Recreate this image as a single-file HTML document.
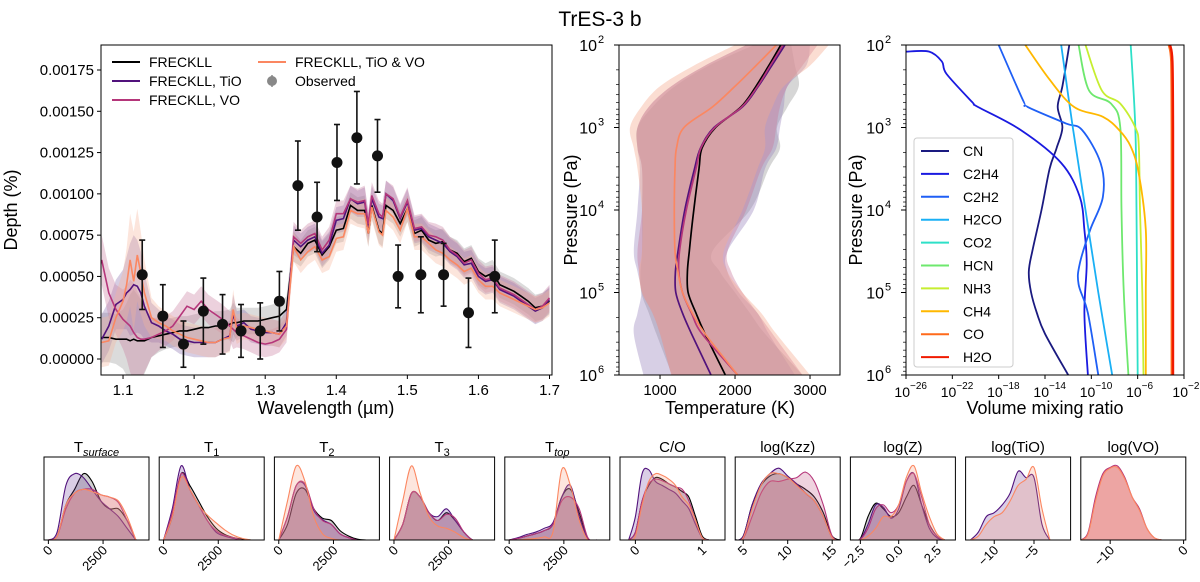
<!DOCTYPE html>
<html><head><meta charset="utf-8">
<style>
html,body{margin:0;padding:0;background:#fff;}
svg{display:block;font-family:"Liberation Sans","DejaVu Sans",sans-serif;}
</style></head>
<body>
<svg id="fig" width="1200" height="582" viewBox="0 0 1200 582" xmlns="http://www.w3.org/2000/svg">
<text x="600" y="26" font-size="21" text-anchor="middle">TrES-3 b</text>
<g id="main"></g>
<g id="tp"></g>
<g id="chem"></g>
<g id="post"></g>
</svg>
<script>
// ---------- spectrum data (depth in units of 1e-5) ----------
const wavelengths=[1.07,1.08,1.09,1.10,1.105,1.11,1.115,1.12,1.125,1.13,1.14,1.15,1.16,1.17,1.18,1.19,1.20,1.21,1.22,1.23,1.24,1.25,1.255,1.26,1.27,1.28,1.29,1.30,1.31,1.32,1.33,1.34,1.35,1.36,1.37,1.38,1.39,1.40,1.41,1.42,1.43,1.44,1.445,1.45,1.46,1.465,1.47,1.48,1.49,1.50,1.51,1.52,1.53,1.54,1.55,1.56,1.57,1.58,1.59,1.60,1.61,1.62,1.63,1.64,1.65,1.66,1.67,1.68,1.69,1.70];
const depthFreckll=[13,13,12,12,12,11,12,11,11,11,13,14,15,16,17,17,18,19,19,20,20,21,22,22,23,23,23,24,25,26,30,68,64,70,72,63,68,78,79,93,90,90,76,93,78,76,93,90,82,91,76,78,72,70,71,66,64,59,61,53,50,52,45,43,41,38,35,31,32,35];
const depthTiO=[12,20,33,36,40,42,45,44,40,32,22,20,17,15,12,11,10,10,10,10,12,14,27,20,22,18,17,16,16,15,22,72,68,72,74,64,69,84,85,97,94,95,80,97,86,85,100,96,85,95,78,79,74,72,70,65,62,57,58,50,47,48,42,40,38,35,32,29,31,36];
const depthVO=[60,40,30,24,22,20,16,13,12,12,13,15,17,20,26,32,30,35,30,27,24,20,18,16,14,12,10,9,10,12,18,74,70,74,76,66,72,88,88,97,95,96,82,99,88,86,100,97,86,96,79,80,75,74,72,66,63,58,60,52,48,49,43,41,39,36,33,30,32,37];
const depthTiOVO=[10,11,25,35,45,60,47,63,52,40,25,22,20,17,15,13,12,11,10,10,12,13,30,18,20,19,18,17,16,15,20,68,60,65,68,60,62,73,74,90,88,88,76,92,77,75,90,86,78,91,74,74,70,66,64,60,57,53,55,48,44,44,40,38,36,34,32,30,31,34];
const bandHalf=[15,15,15,18,22,28,30,28,25,20,12,10,9,9,9,9,9,9,9,9,9,9,12,9,8,8,8,8,8,8,8,9,8,8,8,8,8,8,8,8,8,9,8,8,8,8,8,8,8,8,8,8,8,8,8,8,8,8,8,8,8,8,8,8,8,8,8,8,8,8];
const obsWl=[1.127,1.156,1.185,1.213,1.240,1.266,1.293,1.320,1.346,1.373,1.401,1.429,1.458,1.487,1.519,1.551,1.586,1.623];
const obsDepth=[51,26,9,29,21,17,17,35,105,86,119,134,123,50,51,51,28,50];
const obsErr=[21,19,14,20,18,16,17,18,27,21,23,28,22,19,23,19,21,22];
const depthTicks=[0,25,50,75,100,125,150,175];
const depthTickLabels=["0.00000","0.00025","0.00050","0.00075","0.00100","0.00125","0.00150","0.00175"];
const wlTicks=[1.1,1.2,1.3,1.4,1.5,1.6,1.7];

// ---------- T-P data ----------
const logP=[2,2.25,2.5,2.75,3,3.25,3.5,4,4.5,4.75,5,5.25,5.5,6];
const tFreckll=[2610,2450,2280,2080,1740,1560,1520,1450,1390,1365,1375,1480,1600,1870];
const tTiO=[2665,2490,2310,2100,1720,1540,1460,1330,1240,1205,1210,1300,1420,1680];
const tVO=[2640,2470,2300,2090,1730,1545,1480,1350,1260,1250,1300,1420,1560,2035];
const tTiOVO=[2550,2280,2000,1700,1320,1220,1200,1190,1200,1240,1300,1430,1600,2035];
const tLoFreckll=[2250,1650,1200,900,700,700,760,760,760,740,750,850,950,1160];
const tHiFreckll=[2750,2800,2850,2700,2560,2600,2450,2200,1700,1800,2000,2200,2400,2900];
const tLoTiO=[2150,1600,1150,850,700,700,730,700,650,700,750,700,650,780];
const tHiTiO=[3000,2950,2700,2650,2600,2550,2400,2250,1900,1900,2050,2300,2450,2800];
const tLoVO=[2150,1600,1150,850,700,700,760,760,700,720,760,900,1000,1150];
const tHiVO=[3100,2900,2700,2600,2550,2500,2350,2150,1900,1950,2100,2300,2500,2900];
const tLoTiOVO=[2000,1450,1000,750,600,650,700,760,760,720,760,900,1000,1150];
const tHiTiOVO=[3250,3000,2650,2500,2400,2400,2300,2100,1850,1900,2100,2350,2550,3000];
const tempTicks=[1000,2000,3000];
const pressTicks=[2,3,4,5,6];

// ---------- chemistry data (log10 VMR vs log10 P) ----------
const species=["CN","C2H4","C2H2","H2CO","CO2","HCN","NH3","CH4","CO","H2O"];
const pCN=[2,2.5,2.75,3,3.25,3.5,4,4.5,4.75,5,5.25,5.5,6];
const xCN=[-11.9,-12.5,-12.9,-12.5,-13.0,-13.6,-14.3,-15.1,-15.4,-15.2,-14.7,-14.0,-12.0];
const pC2H4=[2.08,2.08,2.2,2.35,2.69,2.75,3.03,3.43,3.84,4.24,4.65,5.25,6];
const xC2H4=[-26,-24,-22.9,-22.5,-20.3,-19.8,-16.1,-12.6,-11,-10.6,-10.4,-10.6,-10.3];
const pC2H2=[2,2.67,2.75,2.95,3.03,3.43,3.84,4.24,4.65,4.9,5.25,6];
const xC2H2=[-18,-15.9,-15.5,-12.2,-10.8,-9.2,-9,-10.1,-11,-11.1,-10.3,-9.4];
const pH2CO=[2,3,4,5,6];
const xH2CO=[-12.6,-11.6,-10.5,-9.4,-8.2];
const pCO2=[2,3,4,5,6];
const xCO2=[-6.6,-6.2,-6.1,-6.05,-6.0];
const pHCN=[2,2.55,2.71,3,4,5,6];
const xHCN=[-11.1,-10.2,-8.3,-7.5,-7.4,-7.2,-6.8];
const pNH3=[2,2.55,2.71,3,3.23,4,5,6];
const xNH3=[-10.5,-9.1,-7.5,-6.2,-5.9,-5.8,-5.6,-5.5];
const pCH4=[2,2.42,2.75,2.87,3.03,3.23,3.56,4.24,5,6];
const xCH4=[-15.7,-13.6,-11.5,-9,-7.6,-6.6,-5.9,-5.3,-5.3,-5.3];
const pCO=[2,2.2,3,4,5,6];
const xCO=[-3.3,-3.1,-3.05,-3.05,-3.05,-3.05];
const pH2O=[2,2.2,3,4,5,6];
const xH2O=[-3.2,-3.0,-2.95,-2.95,-2.95,-2.95];
const vmrTicks=[-26,-22,-18,-14,-10,-6,-2];

// ---------- posterior densities ----------
const tGrid=[0,400,800,1200,1600,2000,2400,2800,3200,3600,4000];
const tsurfF=[0,0.05,0.45,0.65,0.85,0.75,0.5,0.4,0.4,0.25,0];
const tsurfT=[0,0.1,0.7,0.85,0.8,0.65,0.5,0.4,0.3,0.15,0];
const tsurfV=[0,0.05,0.4,0.6,0.65,0.65,0.58,0.55,0.48,0.25,0];
const tsurfTV=[0,0.05,0.45,0.6,0.65,0.62,0.58,0.55,0.5,0.3,0];
const t1F=[0,0.3,0.85,0.7,0.5,0.3,0.15,0.07,0.03,0.01,0];
const t1T=[0,0.4,0.95,0.65,0.45,0.25,0.1,0.05,0.02,0,0];
const t1V=[0,0.35,0.85,0.65,0.45,0.25,0.12,0.06,0.03,0,0];
const t1TV=[0,0.3,0.8,0.65,0.45,0.32,0.22,0.13,0.06,0.02,0];
const t2F=[0,0.2,0.6,0.65,0.4,0.28,0.25,0.12,0.05,0.01,0];
const t2T=[0,0.3,0.7,0.7,0.38,0.26,0.2,0.08,0.03,0,0];
const t2V=[0,0.3,0.7,0.72,0.4,0.25,0.2,0.08,0.03,0,0];
const t2TV=[0,0.5,0.95,0.75,0.3,0.08,0.02,0,0,0,0];
const t3F=[0,0.2,0.6,0.55,0.35,0.25,0.35,0.25,0.1,0,0];
const t3T=[0,0.2,0.6,0.55,0.35,0.3,0.4,0.25,0.1,0,0];
const t3V=[0,0.2,0.6,0.55,0.35,0.25,0.33,0.28,0.1,0,0];
const t3TV=[0,0.5,0.95,0.6,0.3,0.18,0.15,0.1,0.03,0,0];
const ttopF=[0,0.02,0.05,0.08,0.12,0.2,0.55,0.65,0.35,0.02,0];
const ttopT=[0,0.03,0.07,0.1,0.15,0.22,0.55,0.7,0.3,0.02,0];
const ttopV=[0,0.02,0.05,0.08,0.12,0.2,0.5,0.55,0.4,0.03,0];
const ttopTV=[0,0,0.01,0.02,0.04,0.1,0.9,0.7,0.25,0,0];
const coGrid=[-0.1,0,0.1,0.2,0.3,0.4,0.5,0.6,0.7,0.8,0.9,1.0,1.1];
const coF=[0,0.1,0.5,0.7,0.8,0.78,0.72,0.68,0.62,0.55,0.3,0.05,0];
const coT=[0,0.3,0.85,0.9,0.75,0.7,0.65,0.6,0.5,0.4,0.2,0.03,0];
const coV=[0,0.1,0.5,0.72,0.78,0.76,0.72,0.68,0.65,0.5,0.25,0.03,0];
const coTV=[0,0.05,0.45,0.75,0.85,0.83,0.78,0.7,0.55,0.45,0.25,0.03,0];
const kzzGrid=[4,5,6,7,8,9,10,11,12,13,14,15,16];
const kzzF=[0,0.05,0.45,0.7,0.82,0.85,0.8,0.72,0.65,0.55,0.35,0.05,0];
const kzzT=[0,0.05,0.45,0.72,0.85,0.92,0.82,0.72,0.6,0.5,0.3,0.03,0];
const kzzV=[0,0.02,0.3,0.6,0.75,0.75,0.78,0.8,0.87,0.75,0.45,0.05,0];
const kzzTV=[0,0.03,0.4,0.7,0.85,0.85,0.8,0.7,0.6,0.5,0.3,0.03,0];
const zGrid=[-3,-2.5,-2,-1.5,-1,-0.5,0,0.5,1,1.5,2,2.5,3];
const zF=[0,0.02,0.3,0.47,0.4,0.3,0.35,0.55,0.7,0.45,0.2,0.05,0];
const zT=[0,0.01,0.2,0.45,0.42,0.28,0.4,0.75,0.85,0.45,0.15,0.03,0];
const zV=[0,0.01,0.15,0.4,0.45,0.35,0.45,0.75,0.85,0.55,0.2,0.05,0];
const zTV=[0,0,0.05,0.15,0.3,0.3,0.45,0.8,0.95,0.6,0.3,0.08,0];
const tioGrid=[-13,-12,-11,-10,-9,-8,-7,-6,-5,-4,-3];
const tioT=[0,0.1,0.3,0.35,0.45,0.6,0.88,0.8,0.8,0.2,0];
const tioTV=[0,0.05,0.2,0.3,0.35,0.5,0.7,0.78,0.93,0.4,0];
const voGrid=[-14,-13,-12,-11,-10,-9,-8,-7,-6,-5,-4,-3];
const voV=[0,0.1,0.55,0.85,0.93,0.95,0.8,0.55,0.4,0.15,0.03,0];
const voTV=[0,0.08,0.5,0.82,0.92,0.93,0.78,0.55,0.38,0.15,0.03,0];

const NS="http://www.w3.org/2000/svg";
function mk(parent,tag,attrs,txt){const e=document.createElementNS(NS,tag);for(const k in attrs)e.setAttribute(k,attrs[k]);if(txt!==undefined)e.textContent=txt;parent.appendChild(e);return e;}
function smooth(pts){if(pts.length<2)return "";let d="M"+pts[0][0].toFixed(1)+","+pts[0][1].toFixed(1);
 for(let i=0;i<pts.length-1;i++){const p0=pts[i-1]||pts[i],p1=pts[i],p2=pts[i+1],p3=pts[i+2]||p2;
  const c1=[p1[0]+(p2[0]-p0[0])/6,p1[1]+(p2[1]-p0[1])/6],c2=[p2[0]-(p3[0]-p1[0])/6,p2[1]-(p3[1]-p1[1])/6];
  d+="C"+c1[0].toFixed(1)+","+c1[1].toFixed(1)+" "+c2[0].toFixed(1)+","+c2[1].toFixed(1)+" "+p2[0].toFixed(1)+","+p2[1].toFixed(1);}
 return d;}
function lin(pts){return pts.map((p,i)=>(i?"L":"M")+p[0].toFixed(1)+","+p[1].toFixed(1)).join("");}
const C={F:"#000000",T:"#51127c",V:"#b5367a",TV:"#fb8761"};

// ================= MAIN SPECTRUM =================
(function(){
 const g=document.getElementById("main");
 const L=101,R=552,T=45,B=375,x0=1.069,x1=1.7035;
 const xs=v=>L+(v-x0)/(x1-x0)*(R-L);
 const ys=v=>359-v/175*289;
 const clip=mk(g,"clipPath",{id:"clipMain"});mk(clip,"rect",{x:L,y:T,width:R-L,height:B-T});
 const pl=mk(g,"g",{"clip-path":"url(#clipMain)"});
 const series=[["freckll",depthFreckll,C.F,"#999999"],["tio",depthTiO,C.T,"#8a6fb0"],["vo",depthVO,C.V,"#c97a9e"],["tio-vo",depthTiOVO,C.TV,"#f7b49a"]];
 series.forEach(s=>{
  const up=wavelengths.map((w,i)=>[xs(w),ys(s[1][i]+bandHalf[i])]);
  const lo=wavelengths.map((w,i)=>[xs(w),ys(s[1][i]-bandHalf[i])]).reverse();
  const b=mk(pl,"path",{d:lin(up.concat(lo))+"Z",fill:s[3],"fill-opacity":0.35,stroke:"none"});
  
  
 });
 series.forEach(s=>{
  const l=mk(pl,"path",{d:lin(wavelengths.map((w,i)=>[xs(w),ys(s[1][i])])),fill:"none",stroke:s[2],"stroke-width":1.6});
  
  
 });
 obsWl.forEach((w,i)=>{
  const gg=mk(pl,"g",{});
  
  
  const cx=xs(w),yt=ys(obsDepth[i]+obsErr[i]),yb=ys(obsDepth[i]-obsErr[i]);
  mk(gg,"line",{x1:cx,x2:cx,y1:yt,y2:yb,stroke:"#111","stroke-width":1.6});
  mk(gg,"line",{x1:cx-3,x2:cx+3,y1:yt,y2:yt,stroke:"#111","stroke-width":1.6});
  mk(gg,"line",{x1:cx-3,x2:cx+3,y1:yb,y2:yb,stroke:"#111","stroke-width":1.6});
  mk(gg,"circle",{cx:cx,cy:ys(obsDepth[i]),r:5.5,fill:"#111"});
 });
 const fr=mk(g,"rect",{x:L,y:T,width:R-L,height:B-T,fill:"none",stroke:"#000","stroke-width":1});
 
 
 depthTicks.forEach((v,i)=>{const y=ys(v);mk(g,"line",{x1:L-4,x2:L,y1:y,y2:y,stroke:"#000"});
  const t=mk(g,"text",{x:L-7,y:y+5,"font-size":15,"text-anchor":"end"},depthTickLabels[i]);
  
  });
 wlTicks.forEach(v=>{const x=xs(v);mk(g,"line",{x1:x,x2:x,y1:B,y2:B+4,stroke:"#000"});
  const t=mk(g,"text",{x:x,y:B+20,"font-size":15,"text-anchor":"middle"},v.toFixed(1));
  
  });
 const yl=mk(g,"text",{x:0,y:0,"font-size":18,"text-anchor":"middle",transform:"translate(17,210) rotate(-90)"},"Depth (%)");
 
 
 const xl=mk(g,"text",{x:326,y:414,"font-size":18,"text-anchor":"middle"},"Wavelength (µm)");
 
 
 const leg=[["FRECKLL",C.F,112,62],["FRECKLL, TiO",C.T,112,81],["FRECKLL, VO",C.V,112,100],["FRECKLL, TiO & VO",C.TV,258,62]];
 leg.forEach(e=>{const lg=mk(g,"g",{});
  
  
  mk(lg,"line",{x1:e[2],x2:e[2]+28,y1:e[3],y2:e[3],stroke:e[1],"stroke-width":2});
  mk(lg,"text",{x:e[2]+37,y:e[3]+5,"font-size":14},e[0]);});
 const lo=mk(g,"g",{});
 
 
 mk(lo,"line",{x1:272,x2:272,y1:75,y2:87,stroke:"#888","stroke-width":1.5});
 mk(lo,"circle",{cx:272,cy:81,r:5,fill:"#888"});
 mk(lo,"text",{x:295,y:86,"font-size":14},"Observed");
})();

// ================= T-P PROFILE =================
function logYAxis(g,L,T,B,yP,labelX){
 pressTicks.forEach(p=>{const y=yP(p);mk(g,"line",{x1:L-5,x2:L,y1:y,y2:y,stroke:"#000"});
  const t=mk(g,"text",{x:L-22,y:y+6,"font-size":16,"text-anchor":"end"},"10");
  
  
  mk(g,"text",{x:L-21,y:y-2,"font-size":11},String(p));
  if(p<6)for(let m=2;m<10;m++){const yy=yP(p+Math.log10(m));mk(g,"line",{x1:L-3,x2:L,y1:yy,y2:yy,stroke:"#000","stroke-width":0.7});}
 });
 const yl=mk(g,"text",{x:0,y:0,"font-size":18,"text-anchor":"middle",transform:"translate("+labelX+",210) rotate(-90)"},"Pressure (Pa)");
 
 
}
(function(){
 const g=document.getElementById("tp");
 const L=619,R=840,T=45,B=375;
 const xT=t=>L+(t-453)/1000*75;
 const yP=p=>T+(p-2)*82.5;
 const clip=mk(g,"clipPath",{id:"clipTP"});mk(clip,"rect",{x:L,y:T,width:R-L,height:B-T});
 const pl=mk(g,"g",{"clip-path":"url(#clipTP)"});
 const sets=[["freckll",tFreckll,tLoFreckll,tHiFreckll,C.F,"#999999"],["tio",tTiO,tLoTiO,tHiTiO,C.T,"#9b86bf"],["vo",tVO,tLoVO,tHiVO,C.V,"#c7789a"],["tio-vo",tTiOVO,tLoTiOVO,tHiTiOVO,C.TV,"#f4a98e"]];
 sets.forEach(s=>{
  const hi=logP.map((p,i)=>[xT(s[3][i]),yP(p)]);
  const lo=logP.map((p,i)=>[xT(s[2][i]),yP(p)]).reverse();
  const d=smooth(hi)+smooth(lo).replace(/^M/,"L")+"Z";
  const b=mk(pl,"path",{d:d,fill:s[5],"fill-opacity":0.4});
  
  
 });
 sets.forEach(s=>{
  const l=mk(pl,"path",{d:smooth(logP.map((p,i)=>[xT(s[1][i]),yP(p)])),fill:"none",stroke:s[4],"stroke-width":1.7});
  
  
 });
 const fr=mk(g,"rect",{x:L,y:T,width:R-L,height:B-T,fill:"none",stroke:"#000"});
 
 
 tempTicks.forEach(t=>{const x=xT(t);mk(g,"line",{x1:x,x2:x,y1:B,y2:B+4,stroke:"#000"});
  const tx=mk(g,"text",{x:x,y:B+20,"font-size":15,"text-anchor":"middle"},String(t));
  
  });
 logYAxis(g,L,T,B,yP,577);
 const xl=mk(g,"text",{x:730,y:414,"font-size":18,"text-anchor":"middle"},"Temperature (K)");
 
 
})();

// ================= CHEMISTRY =================
(function(){
 const g=document.getElementById("chem");
 const L=906,R=1184,T=45,B=375;
 const xX=v=>L+(v+26)*(R-L)/24;
 const yP=p=>T+(p-2)*82.5;
 const clip=mk(g,"clipPath",{id:"clipCh"});mk(clip,"rect",{x:L,y:T,width:R-L,height:B-T});
 const pl=mk(g,"g",{"clip-path":"url(#clipCh)"});
 const colors=["#1a1a80","#1a1ae0","#1f5ff5","#1ab0f5","#2ee0c8","#6ee86e","#c6ee30","#ffb800","#ff6a1a","#f01a00"];
 const ps=[pCN,pC2H4,pC2H2,pH2CO,pCO2,pHCN,pNH3,pCH4,pCO,pH2O];
 const xsArr=[xCN,xC2H4,xC2H2,xH2CO,xCO2,xHCN,xNH3,xCH4,xCO,xH2O];
 species.forEach((sp,k)=>{
  const pts=ps[k].map((p,i)=>[xX(xsArr[k][i]),yP(p)]);
  const l=mk(pl,"path",{d:smooth(pts),fill:"none",stroke:colors[k],"stroke-width":k>=8?2.4:1.8});
  
  
 });
 const fr=mk(g,"rect",{x:L,y:T,width:R-L,height:B-T,fill:"none",stroke:"#000"});
 
 
 vmrTicks.forEach(v=>{const x=xX(v);mk(g,"line",{x1:x,x2:x,y1:B,y2:B+4,stroke:"#000"});
  const t=mk(g,"text",{x:x+4,y:B+22,"font-size":14,"text-anchor":"end"},"10");
  
  
  mk(g,"text",{x:x+4,y:B+14,"font-size":10},"−"+Math.abs(v));});
 logYAxis(g,L,T,B,yP,862);
 const xl=mk(g,"text",{x:1045,y:414,"font-size":18,"text-anchor":"middle"},"Volume mixing ratio");
 
 
 const lb=mk(g,"rect",{x:914,y:138,width:99,height:229,rx:3,fill:"#fff","fill-opacity":0.85,stroke:"#ccc"});
 
 
 species.forEach((sp,k)=>{const y=151+k*22.9;const lg=mk(g,"g",{});
  
  
  mk(lg,"line",{x1:921,x2:949,y1:y,y2:y,stroke:colors[k],"stroke-width":2});
  mk(lg,"text",{x:963,y:y+5,"font-size":14},sp);});
})();

// ================= POSTERIORS =================
(function(){
 const g=document.getElementById("post");
 const T=457,B=540,W=105;
 const panels=[
  {n:"t-surface",t:"T",sub:"surface",it:true,r:[-200,4600],ticks:[0,2500],lab:["0","2500"],grid:tGrid,s:[["F",tsurfF],["T",tsurfT],["V",tsurfV],["TV",tsurfTV]]},
  {n:"t1",t:"T",sub:"1",r:[-200,4600],ticks:[0,2500],lab:["0","2500"],grid:tGrid,s:[["F",t1F],["T",t1T],["V",t1V],["TV",t1TV]]},
  {n:"t2",t:"T",sub:"2",r:[-200,4600],ticks:[0,2500],lab:["0","2500"],grid:tGrid,s:[["F",t2F],["T",t2T],["V",t2V],["TV",t2TV]]},
  {n:"t3",t:"T",sub:"3",r:[-200,4600],ticks:[0,2500],lab:["0","2500"],grid:tGrid,s:[["F",t3F],["T",t3T],["V",t3V],["TV",t3TV]]},
  {n:"t-top",t:"T",sub:"top",it:true,r:[-200,4600],ticks:[0,2500],lab:["0","2500"],grid:tGrid,s:[["F",ttopF],["T",ttopT],["V",ttopV],["TV",ttopTV]]},
  {n:"c-o",t:"C/O",r:[-0.23,1.34],ticks:[0,1],lab:["0","1"],grid:coGrid,s:[["F",coF],["T",coT],["V",coV],["TV",coTV]]},
  {n:"log-kzz",t:"log(Kzz)",r:[4.1,15.9],ticks:[5,10,15],lab:["5","10","15"],grid:kzzGrid,s:[["F",kzzF],["T",kzzT],["V",kzzV],["TV",kzzTV]]},
  {n:"log-z",t:"log(Z)",r:[-3.15,3.7],ticks:[-2.5,0,2.5],lab:["−2.5","0.0","2.5"],grid:zGrid,s:[["F",zF],["T",zT],["V",zV],["TV",zTV]]},
  {n:"log-tio",t:"log(TiO)",r:[-13.6,-0.4],ticks:[-10,-5],lab:["−10","−5"],grid:tioGrid,s:[["T",tioT],["TV",tioTV]]},
  {n:"log-vo",t:"log(VO)",r:[-14,0.3],ticks:[-10,0],lab:["−10","0"],grid:voGrid,s:[["V",voV],["TV",voTV]]}
 ];
 const fills={F:"#444444",T:"#6a3d9a",V:"#c0507f",TV:"#f89a7a"};
 panels.forEach((P,k)=>{
  const L=44+k*115.2;
  const pg=mk(g,"g",{});
  
  
  const xs=v=>L+(v-P.r[0])/(P.r[1]-P.r[0])*W;
  const ys=d=>B-d*78;
  const cid="cp"+k;const cp=mk(pg,"clipPath",{id:cid});mk(cp,"rect",{x:L,y:T,width:W,height:B-T});
  const pl=mk(pg,"g",{"clip-path":"url(#"+cid+")"});
  P.s.forEach(s=>{
   const pts=P.grid.map((v,i)=>[xs(v),ys(s[1][i])]);
   const d=smooth(pts);
   const a=mk(pl,"path",{d:d+"L"+xs(P.grid[P.grid.length-1]).toFixed(1)+","+B+"L"+xs(P.grid[0]).toFixed(1)+","+B+"Z",fill:fills[s[0]],"fill-opacity":P.n==="log-vo"?0.45:0.25,stroke:"none"});
   
   
   const l=mk(pl,"path",{d:d,fill:"none",stroke:C[s[0]],"stroke-width":1.1});
   
   
  });
  mk(pg,"rect",{x:L,y:T,width:W,height:B-T,fill:"none",stroke:"#000"});
  P.ticks.forEach((tv,i)=>{const x=xs(tv);mk(pg,"line",{x1:x,x2:x,y1:B,y2:B+4,stroke:"#000"});
   const t=mk(pg,"text",{x:0,y:0,"font-size":13,"text-anchor":"end",transform:"translate("+(x+5)+","+(B+11)+") rotate(-45)"},P.lab[i]);
   
   });
  const tt=mk(pg,"text",{x:L+W/2,y:T-5,"font-size":15,"text-anchor":"middle"});
  
  
  tt.textContent=P.t;
  if(P.sub){mk(tt,"tspan",{"font-size":11,dy:4,"font-style":P.it?"italic":"normal"},P.sub);}
 });
})();
</script>
</body></html>
